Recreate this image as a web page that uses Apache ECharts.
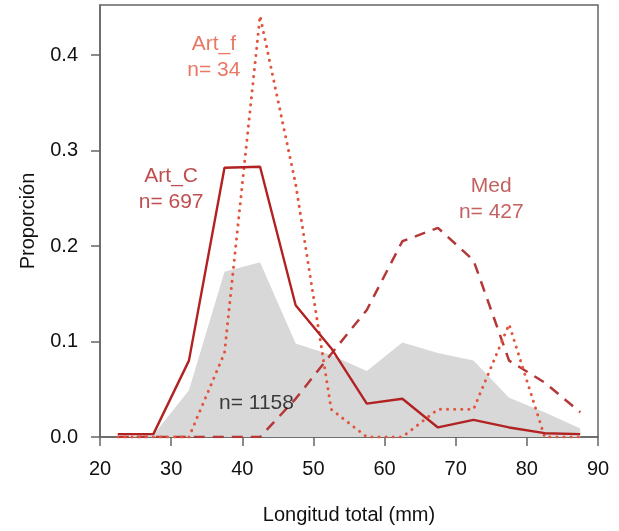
<!DOCTYPE html>
<html>
<head>
<meta charset="utf-8">
<script src="https://cdn.jsdelivr.net/npm/echarts@6/dist/echarts.min.js"></script>
<style>
html,body{margin:0;padding:0;background:#fff;}
#chart{width:619px;height:531px;}
</style>
</head>
<body>
<div id="chart"></div>
<script>
// Bin midpoints (Longitud total, mm)
var mids = [22.5, 27.5, 32.5, 37.5, 42.5, 47.5, 52.5, 57.5, 62.5, 67.5, 72.5, 77.5, 82.5, 87.5];
// Proportions per bin
var totalAll = [0.001, 0.002, 0.049, 0.173, 0.183, 0.098, 0.086, 0.069, 0.099, 0.088, 0.080, 0.041, 0.026, 0.009];
var artC    = [0.003, 0.003, 0.080, 0.282, 0.283, 0.138, 0.093, 0.035, 0.040, 0.010, 0.018, 0.010, 0.004, 0.003];
var artF    = [0, 0, 0, 0.088, 0.441, 0.265, 0.029, 0, 0, 0.029, 0.029, 0.118, 0, 0];
var med     = [0, 0, 0, 0, 0, 0.040, 0.087, 0.133, 0.205, 0.219, 0.185, 0.080, 0.057, 0.026];

var xTicks = [20, 30, 40, 50, 60, 70, 80, 90];
var yTicks = [0, 0.1, 0.2, 0.3, 0.4];

// Annotation texts and their data positions
var labelNames = ['Art_f', 'Art_C', 'Med', 'all'];
var labelTexts = ['Art_f\nn= 34', 'Art_C\nn= 697', 'Med\nn= 427', 'n= 1158'];
var labelX = [36, 30, 75, 42];
var labelY = [0.398, 0.259, 0.249, 0.0355];

var colC = '#B22222', colF = '#E2553C', colM = '#B53838';
var labelColors = [colF, colC, colM, '#111111'];

function pairs(ys){ return mids.map(function(x,i){ return [x, ys[i]]; }); }

var FONT = 'Liberation Sans, Arial, sans-serif';
var chart = echarts.init(document.getElementById('chart'));
chart.setOption({
  animation: false,
  backgroundColor: '#ffffff',
  grid: { left: 100, right: 21, top: 5, bottom: 94, show: true, borderColor: '#666', borderWidth: 1.5, backgroundColor: 'transparent' },
  xAxis: {
    type: 'value', min: 20, max: 90, interval: 10,
    name: 'Longitud total (mm)', nameLocation: 'middle', nameGap: 68,
    nameTextStyle: { fontFamily: FONT, fontSize: 20, color: '#111' },
    axisLine: { show: true, onZero: false, lineStyle: { color: '#666', width: 1.5 } },
    axisTick: { show: true, length: 9, lineStyle: { color: '#666', width: 1.5 }, customValues: xTicks },
    axisLabel: { fontFamily: FONT, fontSize: 20, color: '#111', margin: 22, customValues: xTicks },
    splitLine: { show: false }
  },
  yAxis: {
    type: 'value', min: 0, max: 0.4524,
    name: 'Proporción', nameLocation: 'middle', nameGap: 62, nameRotate: 90,
    nameTextStyle: { fontFamily: FONT, fontSize: 20, color: '#111' },
    axisLine: { show: true, lineStyle: { color: '#666', width: 1.5 } },
    axisTick: { show: true, length: 9, lineStyle: { color: '#666', width: 1.5 }, customValues: yTicks },
    axisLabel: { fontFamily: FONT, fontSize: 20, color: '#111', margin: 22, customValues: yTicks,
      formatter: function(v){ return v.toFixed(1); } },
    splitLine: { show: false }
  },
  series: [
    { name: 'Total', type: 'line', data: pairs(totalAll), showSymbol: false, z: 1,
      lineStyle: { width: 0, color: '#d8d8d8' }, areaStyle: { color: '#d8d8d8', opacity: 1 } },
    { name: 'Med', type: 'line', data: pairs(med), showSymbol: false, z: 3,
      lineStyle: { width: 2.5, color: colM, type: [11, 8] } },
    { name: 'Art_f', type: 'line', data: pairs(artF), showSymbol: false, z: 3,
      lineStyle: { width: 3, color: colF, type: [0.1, 7], cap: 'round' } },
    { name: 'Art_C', type: 'line', data: pairs(artC), showSymbol: false, z: 4,
      lineStyle: { width: 2.4, color: colC } },
    { name: 'labels', type: 'scatter', symbolSize: 0, z: 5, silent: true,
      data: labelNames.map(function(n,i){
        return { value: [labelX[i], labelY[i]],
          label: { show: true, position: 'inside', formatter: labelTexts[i],
            fontFamily: FONT, fontSize: 21, lineHeight: 26, color: labelColors[i], align: 'center' } };
      }) }
  ]
});
</script>
</body>
</html>
